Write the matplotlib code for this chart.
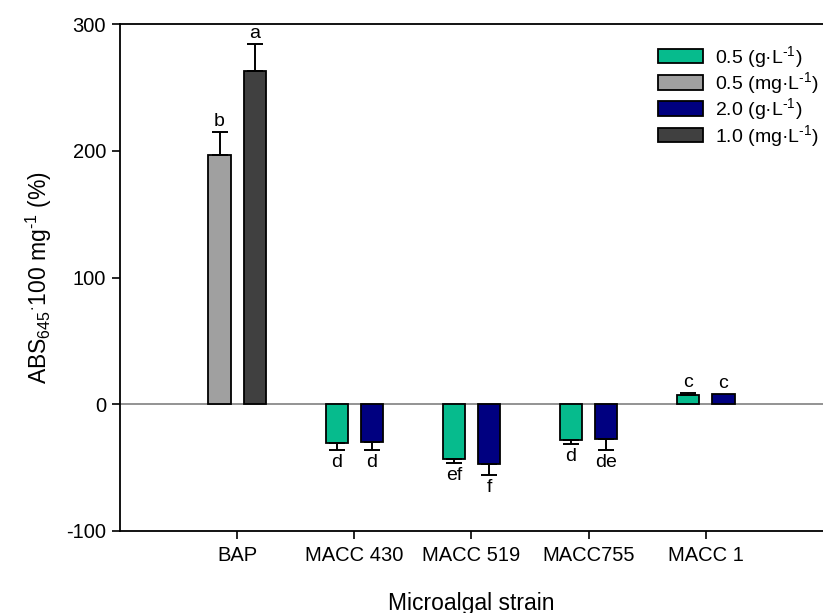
import matplotlib
matplotlib.use("Agg")
import matplotlib.pyplot as plt
import numpy as np

plt.rcParams['font.family'] = ['Liberation Sans', 'DejaVu Sans']
plt.rcParams['mathtext.fontset'] = 'custom'
plt.rcParams['mathtext.rm'] = 'Liberation Sans'
plt.rcParams['mathtext.it'] = 'Liberation Sans:italic'
plt.rcParams['mathtext.bf'] = 'Liberation Sans:bold'
plt.rcParams['axes.unicode_minus'] = False

# Data
strains = ["BAP", "MACC 430", "MACC 519", "MACC755", "MACC 1"]
series_labels = [r"0.5 (g·L$^{\text{-1}}$)", r"0.5 (mg·L$^{\text{-1}}$)",
                 r"2.0 (g·L$^{\text{-1}}$)", r"1.0 (mg·L$^{\text{-1}}$)"]
series_colors = ["#06BB8D", "#A0A0A0", "#000080", "#404040"]

# BAP is tested with the two mg/L doses, the microalgae with the two g/L doses
bap_low = 197.0
bap_low_err = 18.0
bap_high = 263.0
bap_high_err = 21.0

algae_low = [-30.5, -43.0, -28.5, 7.5]
algae_low_err = [5.5, 3.0, 2.7, 1.5]
algae_high = [-29.5, -47.0, -27.5, 8.0]
algae_high_err = [6.5, 9.0, 8.3, 0.0]

bap_letters = ["b", "a"]
algae_low_letters = ["d", "ef", "d", "c"]
algae_high_letters = ["d", "f", "de", "c"]

fig = plt.figure(figsize=(8.23, 6.13), dpi=100)
ax = fig.add_axes([0.1458, 0.1338, 0.8542, 0.827])

width = 0.19
off = 0.15
x = np.arange(len(strains))
xa = x[1:]

bar_kw = dict(width=width, edgecolor="black", linewidth=1.3, zorder=3)
err_kw = dict(fmt="none", ecolor="black", elinewidth=1.4, capsize=5.5,
              capthick=1.4, zorder=4)

# bars drawn in legend order
b_low = ax.bar(xa - off, algae_low, color=series_colors[0],
               label=series_labels[0], **bar_kw)
b_bl = ax.bar([x[0] - off], [bap_low], color=series_colors[1],
              label=series_labels[1], **bar_kw)
b_high = ax.bar(xa + off, algae_high, color=series_colors[2],
                label=series_labels[2], **bar_kw)
b_bh = ax.bar([x[0] + off], [bap_high], color=series_colors[3],
              label=series_labels[3], **bar_kw)


def one_sided(vals, errs):
    vals = np.asarray(vals)
    errs = np.asarray(errs)
    lower = np.where(vals < 0, errs, 0)
    upper = np.where(vals >= 0, errs, 0)
    return [lower, upper]


ax.errorbar([x[0] - off], [bap_low], yerr=one_sided([bap_low], [bap_low_err]), **err_kw)
ax.errorbar([x[0] + off], [bap_high], yerr=one_sided([bap_high], [bap_high_err]), **err_kw)
ax.errorbar(xa - off, algae_low, yerr=one_sided(algae_low, algae_low_err), **err_kw)
mask = np.asarray(algae_high_err) > 0
ax.errorbar((xa + off)[mask], np.asarray(algae_high)[mask],
            yerr=one_sided(np.asarray(algae_high)[mask], np.asarray(algae_high_err)[mask]),
            **err_kw)


def letter(xp, val, err, txt):
    if val >= 0:
        ax.annotate(txt, (xp, val + err), xytext=(0, 1.5), textcoords="offset points",
                    ha="center", va="bottom", fontsize=14)
    else:
        ax.annotate(txt, (xp, val - err), xytext=(0, -3), textcoords="offset points",
                    ha="center", va="top", fontsize=14)


letter(x[0] - off, bap_low, bap_low_err, bap_letters[0])
letter(x[0] + off, bap_high, bap_high_err, bap_letters[1])
for xi, v, e, t in zip(xa - off, algae_low, algae_low_err, algae_low_letters):
    letter(xi, v, e, t)
for xi, v, e, t in zip(xa + off, algae_high, algae_high_err, algae_high_letters):
    letter(xi, v, e, t)

ax.axhline(0, color="#808080", linewidth=1.2, zorder=2)

ax.set_xlim(-1, 5)
ax.set_ylim(-100, 300)
ax.set_yticks([-100, 0, 100, 200, 300])
ax.set_xticks(x)
ax.set_xticklabels(strains)
ax.tick_params(axis="both", direction="out", length=6, width=1.2, labelsize=14.5,
               colors="black")
ax.tick_params(axis="x", pad=5)
ax.tick_params(axis="y", pad=4)
for s in ["left", "bottom", "top"]:
    ax.spines[s].set_linewidth(1.3)
ax.spines["right"].set_visible(False)

ax.set_xlabel("Microalgal strain", fontsize=16.5, labelpad=19)
ax.set_ylabel(r"ABS$_{645}$$^{\cdot}$100 mg$^{\text{-1}}$ (%)", fontsize=16.5, labelpad=9)

handles = [b_low, b_bl, b_high, b_bh]
leg = ax.legend(handles, series_labels, loc="upper left", bbox_to_anchor=(0.765, 0.961),
                frameon=False, fontsize=14, handlelength=2.3, handleheight=0.78,
                labelspacing=0.02, handletextpad=0.65, borderaxespad=0, borderpad=0)

fig.savefig("out.png", dpi=100)
